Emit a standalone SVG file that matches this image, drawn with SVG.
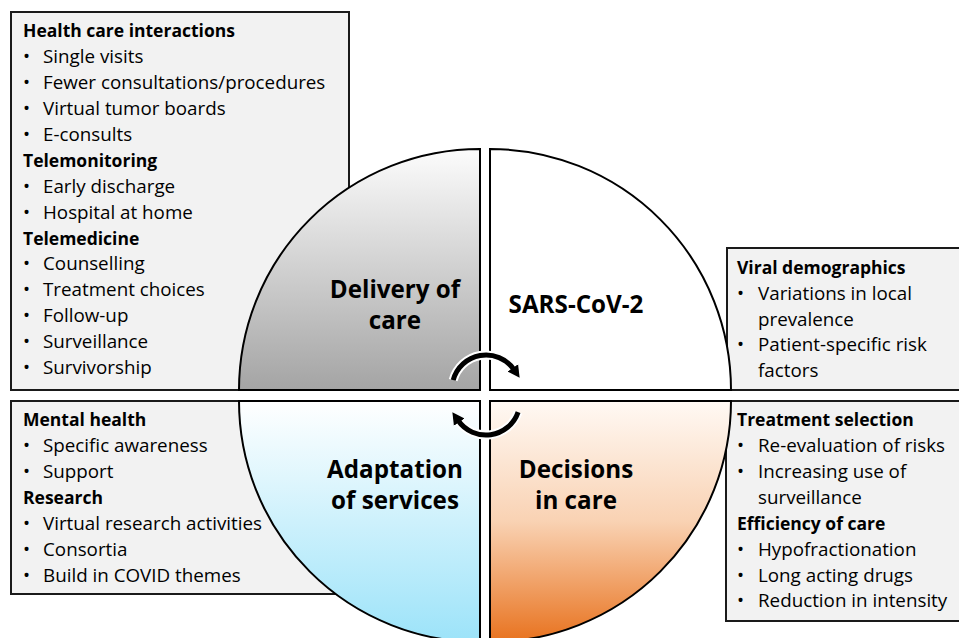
<svg xmlns="http://www.w3.org/2000/svg" width="959" height="638" viewBox="0 0 959 638">
<style>
.box{fill:#f2f2f2;stroke:#1a1a1a;stroke-width:2}
.q{stroke:#000;stroke-width:2}
.t{font-family:"Open Sans","Liberation Sans",sans-serif;font-size:18.8px;fill:#000}
.h{font-family:"Open Sans","Liberation Sans",sans-serif;font-size:17.5px;font-weight:bold;fill:#000}
.lbl{font-family:"Open Sans","Liberation Sans",sans-serif;font-size:24.2px;font-weight:bold;fill:#000;text-anchor:middle}
.halo{fill:none;stroke:#fff;stroke-width:9}
.arc{fill:none;stroke:#000;stroke-width:5}
</style>
<defs>
<linearGradient id="gGray" x1="0" y1="0" x2="0" y2="1">
<stop offset="0" stop-color="#fcfcfc"/><stop offset="1" stop-color="#a4a4a4"/>
</linearGradient>
<linearGradient id="gBlue" x1="0" y1="0" x2="0" y2="1">
<stop offset="0" stop-color="#ffffff"/><stop offset="1" stop-color="#9ce3f9"/>
</linearGradient>
<linearGradient id="gOrange" x1="0" y1="0" x2="0" y2="1">
<stop offset="0" stop-color="#fff9f4"/><stop offset="0.5" stop-color="#f9d2b3"/><stop offset="1" stop-color="#e8721e"/>
</linearGradient>
<marker id="ah" markerUnits="userSpaceOnUse" markerWidth="16" markerHeight="16" viewBox="0 0 16 16" refX="2" refY="8" orient="auto">
<path d="M0,1.5 L12,8 L0,14.5 Z" fill="#000"/>
</marker>
</defs>
<rect width="959" height="638" fill="#fff"/>

<g id="box-delivery">
<rect class="box" x="11" y="12" width="338" height="378"/>
<text class="h" x="23" y="37">Health care interactions</text>
<text class="t" x="23" y="63">•</text><text class="t" x="43" y="63">Single visits</text>
<text class="t" x="23" y="89">•</text><text class="t" x="43" y="89">Fewer consultations/procedures</text>
<text class="t" x="23" y="115">•</text><text class="t" x="43" y="115">Virtual tumor boards</text>
<text class="t" x="23" y="141">•</text><text class="t" x="43" y="141">E-consults</text>
<text class="h" x="23" y="166.5">Telemonitoring</text>
<text class="t" x="23" y="192.5">•</text><text class="t" x="43" y="192.5">Early discharge</text>
<text class="t" x="23" y="218.5">•</text><text class="t" x="43" y="218.5">Hospital at home</text>
<text class="h" x="23" y="244.5">Telemedicine</text>
<text class="t" x="23" y="270">•</text><text class="t" x="43" y="270">Counselling</text>
<text class="t" x="23" y="296">•</text><text class="t" x="43" y="296">Treatment choices</text>
<text class="t" x="23" y="322">•</text><text class="t" x="43" y="322">Follow-up</text>
<text class="t" x="23" y="348">•</text><text class="t" x="43" y="348">Surveillance</text>
<text class="t" x="23" y="374">•</text><text class="t" x="43" y="374">Survivorship</text>
</g>

<g id="box-sars">
<rect class="box" x="727" y="248" width="240" height="142"/>
<text class="h" x="737" y="274">Viral demographics</text>
<text class="t" x="737" y="300">•</text><text class="t" x="758" y="300">Variations in local</text>
<text class="t" x="758" y="326">prevalence</text>
<text class="t" x="737" y="351">•</text><text class="t" x="758" y="351">Patient-specific risk</text>
<text class="t" x="758" y="377">factors</text>
</g>

<g id="box-adaptation">
<rect class="box" x="11" y="401" width="340" height="193"/>
<text class="h" x="23" y="426">Mental health</text>
<text class="t" x="23" y="452">•</text><text class="t" x="43" y="452">Specific awareness</text>
<text class="t" x="23" y="478">•</text><text class="t" x="43" y="478">Support</text>
<text class="h" x="23" y="504">Research</text>
<text class="t" x="23" y="529.5">•</text><text class="t" x="43" y="529.5">Virtual research activities</text>
<text class="t" x="23" y="555.5">•</text><text class="t" x="43" y="555.5">Consortia</text>
<text class="t" x="23" y="581.5">•</text><text class="t" x="43" y="581.5">Build in COVID themes</text>
</g>

<g id="box-decisions">
<rect class="box" x="726" y="401" width="240" height="220"/>
<text class="h" x="737" y="426">Treatment selection</text>
<text class="t" x="737" y="452">•</text><text class="t" x="758" y="452">Re-evaluation of risks</text>
<text class="t" x="737" y="478">•</text><text class="t" x="758" y="478">Increasing use of</text>
<text class="t" x="758" y="503.5">surveillance</text>
<text class="h" x="737" y="529.5">Efficiency of care</text>
<text class="t" x="737" y="555.5">•</text><text class="t" x="758" y="555.5">Hypofractionation</text>
<text class="t" x="737" y="581.5">•</text><text class="t" x="758" y="581.5">Long acting drugs</text>
<text class="t" x="737" y="607">•</text><text class="t" x="758" y="607">Reduction in intensity</text>
</g>

<g id="q-delivery">
<path class="q" fill="url(#gGray)" d="M480,390 L480,149 A241,241 0 0 0 239,390 Z"/>
<text class="lbl" x="395" y="297.5">Delivery of</text>
<text class="lbl" x="395" y="328.5">care</text>
</g>
<g id="q-sars">
<path class="q" fill="#fff" d="M490,390 L490,149 A241,241 0 0 1 731,390 Z"/>
<text class="lbl" x="576" y="313">SARS-CoV-2</text>
</g>
<g id="q-adaptation">
<path class="q" fill="url(#gBlue)" d="M480,401 L239,401 A241,241 0 0 0 480,642 Z"/>
<text class="lbl" x="395" y="478">Adaptation</text>
<text class="lbl" x="395" y="509">of services</text>
</g>
<g id="q-decisions">
<path class="q" fill="url(#gOrange)" d="M490,401 L731,401 A241,241 0 0 1 490,642 Z"/>
<text class="lbl" x="576" y="478">Decisions</text>
<text class="lbl" x="576" y="509">in care</text>
</g>

<g id="connectors">
<path class="halo" d="M453.2,380.2 A34,34 0 0 1 513.9,369.5"/>
<path class="halo" d="M518.1,412.1 A34,34 0 0 1 458.1,420.5"/>
<path class="arc" marker-end="url(#ah)" d="M453.2,380.2 A34,34 0 0 1 513.9,369.5"/>
<path class="arc" marker-end="url(#ah)" d="M518.1,412.1 A34,34 0 0 1 458.1,420.5"/>
</g>
</svg>
